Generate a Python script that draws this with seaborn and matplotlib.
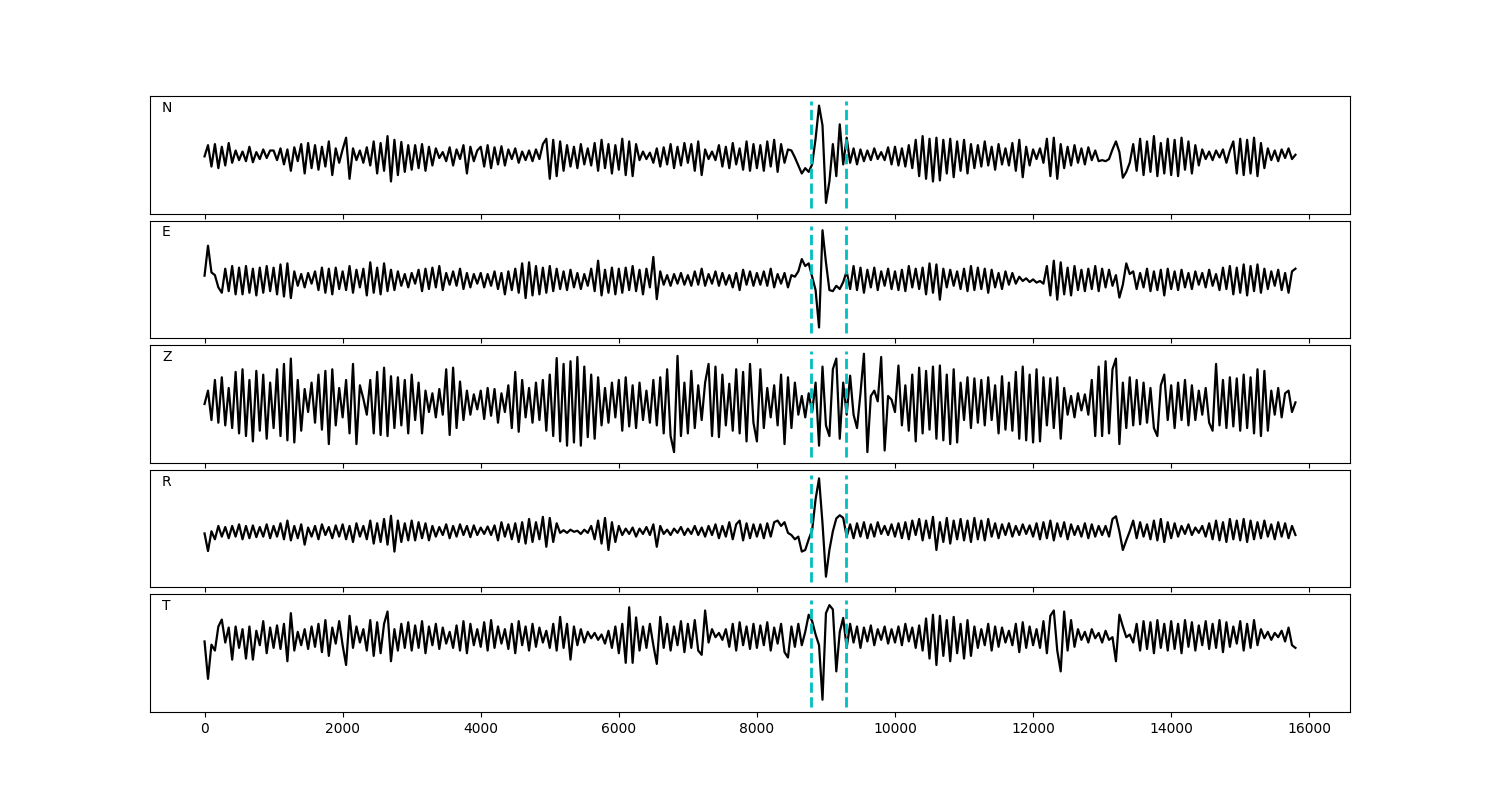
import numpy as np
import pandas as pd
import matplotlib
matplotlib.use("Agg")
import matplotlib.pyplot as plt
import seaborn as sns

# ---------------- data (amplitudes in hundredths, one sample every 50 time units) ----------------
SAMPLE_STEP = 50
PICKS = [8780, 9290]          # cyan dashed markers
CHANNELS = ["N", "E", "Z", "R", "T"]
XTICKS = [0, 2000, 4000, 6000, 8000, 10000, 12000, 14000, 16000]

N_TRACE = [
    -3, 18, -22, 20, -25, 15, -20, 22, -15, 8, -10, 6, -12, 15, -14, 5, -8, 10, -6, 8,
    8, -10, 12, -18, 10, -30, 14, -12, 20, -35, 22, -25, 18, -28, 15, -22, 25, -38, 12, -15,
    10, 32, -45, 12, -10, 8, -15, 14, -20, 25, -35, 22, -30, 35, -50, 28, -38, 24, -32, 18,
    -28, 18, -25, 20, -30, 15, -20, 12, -6, 5, -12, 14, -20, 10, -8, 18, -35, 15, -12, 8,
    15, -22, 18, -25, 14, -18, 16, -20, 10, -8, 12, -15, 6, -10, 8, -12, 10, -8, 20, 30,
    -45, 28, -40, 25, -30, 18, -22, 15, -25, 20, -18, 12, -20, 22, -30, 28, -25, 20, -35, 18,
    -28, 30, -38, 25, -40, 20, -10, 6, -8, 4, -15, 12, -22, 14, -18, 20, -25, 15, -20, 22,
    -15, 20, -30, 25, -38, 10, -8, 6, -10, 18, -22, 15, -25, 22, -18, 12, -28, 25, -30, 20,
    -25, 18, -30, 25, -22, 28, -32, 20, -15, 10, 8, -5, -20, -35, -25, -32, -18, 30, 92, 55,
    -90, -50, 20, -40, 57, -18, 32, -15, 12, -18, 10, -12, 8, -10, 12, -8, 5, -10, 14, -18,
    15, -20, 12, -22, 18, -25, 28, -40, 35, -45, 30, -50, 32, -48, 28, -35, 30, -42, 25, -30,
    28, -35, 20, -25, 18, -22, 25, -20, 15, -28, 20, -18, 12, -20, 22, -30, 28, -42, 15, -20,
    10, -8, 12, -15, 30, -40, 32, -45, 20, -25, 15, -20, 18, -15, 12, -18, 14, -10, 8, -12,
    -10, -12, -8, 10, 25, 5, -43, -32, -15, 20, -30, 30, -38, 25, -32, 35, -40, 22, -35, 30,
    -38, 28, -40, 32, -28, 25, -35, 18, -20, 10, -8, 6, -10, 8, -5, 10, -15, 8, 25, -35,
    30, -38, 28, -35, 32, -40, 22, -25, 12, -10, 8, -12, 10, -6, 12, -8, 0,
]

E_TRACE = [
    7, 63, 13, 8, -15, -25, 20, -22, 25, -28, 22, -28, 25, -25, 20, -30, 22, -25, 25, -22,
    22, -28, 28, -32, 30, -35, 15, -12, 10, -15, 12, -8, 15, -20, 22, -25, 20, -28, 22, -18,
    15, -20, 25, -25, 18, -15, 20, -30, 32, -25, 22, -28, 30, -22, 18, -20, 15, -12, 10, -15,
    12, -8, 18, -22, 20, -18, 22, -15, 25, -20, 12, -10, 15, -12, 20, -18, 12, -15, 10, -8,
    12, -15, 10, -12, 15, -18, 12, -28, 15, -20, 20, -25, 30, -35, 32, -30, 25, -28, 22, -25,
    25, -22, 20, -18, 15, -20, 18, -15, 12, -18, 10, -12, 20, -22, 35, -30, 18, -25, 22, -28,
    20, -25, 22, -20, 25, -22, 18, -28, 20, -15, 42, -37, 15, -10, 8, -12, 10, -8, 12, -10,
    8, -12, 15, -10, 20, -12, 10, -8, 15, -12, 12, -10, 8, -15, 12, -20, 18, -10, 15, -12,
    12, -10, 15, -12, 20, -15, 10, -8, 12, -15, 8, 5, 15, 38, 25, 30, 5, -20, -90, 92,
    32, -20, -22, -12, -18, -5, 15, -18, 25, -20, 22, -25, 18, -15, 22, -20, 15, -12, 20, -18,
    15, -20, 18, -22, 25, -15, 20, -18, 22, -28, 30, -25, 28, -38, 20, -15, 18, -12, 15, -18,
    20, -22, 25, -20, 22, -18, 20, -25, 18, -15, 12, -18, 15, -10, 12, -8, 5, -3, 2, -5,
    0, -6, -3, -8, 25, -30, 35, -38, 32, -28, 22, -30, 25, -20, 18, -22, 20, -18, 25, -22,
    20, -15, 18, -12, 8, -34, -10, 30, 10, 15, -18, 12, -15, 20, -22, 15, -20, 18, -30, 20,
    -18, 15, -20, 18, -15, 12, -18, 15, -10, 12, -15, 18, -12, 10, -20, 22, -18, 25, -28, 22,
    -25, 28, -30, 25, -22, 28, -25, 20, -18, 15, -12, 18, -20, 12, -25, 15, 20,
]

Z_TRACE = [
    0, 25, -30, 45, -35, 50, -40, 30, -45, 60, -55, 65, -60, 45, -70, 62, -50, 55, -65, 40,
    -45, 65, -60, 75, -68, 85, -72, 45, -50, 28, -15, 40, -35, 55, -48, 62, -75, 65, -40, 30,
    -25, 45, -55, 75, -75, 35, 10, -20, 45, -55, 60, -58, 68, -60, 52, -45, 50, -40, 45, -55,
    55, -30, 40, -55, 25, -15, 20, -25, 28, -20, 65, -58, 68, -45, 42, -30, 25, -20, 18, -10,
    25, -28, 30, -22, 28, -35, 20, -15, 35, -45, 60, -52, 45, -25, 30, -35, 40, -30, 45, -50,
    55, -60, 86, -70, 75, -78, 80, -72, 88, -78, 70, -62, 55, -65, 50, -40, 30, -35, 40, -25,
    45, -50, 50, -42, 35, -45, 40, -30, 25, -35, 45, -40, 50, -55, 65, -60, -90, 90, -60, 40,
    -55, 62, -45, 35, -30, 40, 75, -60, 70, -62, 55, -40, 38, -50, 65, -55, 60, -70, 75, -35,
    -70, 65, -45, 30, -25, 35, -40, 55, -75, 50, -45, 40, -20, 15, -25, 20, -15, 40, -78, 70,
    -40, -60, 65, 85, -65, 40, -20, 53, -20, -45, 20, 94, -90, 15, 25, 5, 88, -87, 15, 8,
    -15, 72, -40, 35, -50, 55, -70, 68, -55, 62, -48, 70, -65, 72, -68, 55, -75, 65, -72, 40,
    -30, 50, -45, 48, -35, 45, -40, 50, -30, 35, -55, 52, -48, 40, -50, 60, -65, 70, -68, 55,
    -72, 65, -70, 50, -40, 48, -45, 50, -65, 30, -20, 15, -25, 20, -12, 18, -20, 45, -60, 70,
    -60, 80, -55, 65, 85, -75, 40, -45, 50, -40, 45, -38, 40, -35, 30, -45, -60, 35, 55, -30,
    35, -45, 40, -30, 45, -40, 35, -30, 25, -20, 30, -35, -50, 75, -40, 45, -45, 50, -42, 48,
    -50, 55, -45, 50, -55, 65, -60, 62, -50, 25, -20, 30, -25, 20, 25, -15, 3,
]

R_TRACE = [
    -9, -42, -5, -20, 5, -15, 3, -18, 5, -15, 8, -20, 5, -18, 6, -16, 3, -15, 8, -18,
    5, -15, 10, -20, 15, -22, 5, -18, 8, -30, 2, -15, 5, -20, 8, -12, 3, -18, 6, -15,
    8, -20, 5, -25, 10, -15, 5, -20, 15, -28, 10, -25, 18, -30, 24, -43, 15, -25, 10, -22,
    15, -22, 12, -18, 10, -22, 5, -15, 3, -12, 8, -18, 5, -15, 8, -12, 5, -16, 6, -12,
    2, -10, 4, -12, 6, -22, 12, -15, 8, -20, 10, -25, 12, -28, 18, -25, 12, -20, 22, -34,
    20, -25, 10, -8, -3, -8, -2, -6, -4, -10, -2, -8, 5, -20, 15, -28, 20, -40, 12, -25,
    5, -12, 0, -10, 2, -15, 0, -10, 3, -12, 8, -34, 5, -10, -2, -12, 0, -8, 3, -12,
    0, -10, 5, -12, 2, -15, 5, -12, 8, -18, 5, -15, 12, -20, 8, 15, -22, 10, -18, 8,
    -15, 8, -18, 10, -15, 12, 15, 5, 12, -8, -12, -20, -15, -43, -40, -20, -3, 55, 94, 10,
    -90, -40, -5, 19, 25, 20, -15, 8, -18, 10, -15, 12, -18, 8, -15, 12, -10, 5, -12, 8,
    -15, 10, -18, 12, -20, 15, -12, 18, -22, 15, -18, 22, -40, 12, -25, 20, -28, 15, -20, 18,
    -22, 15, -25, 20, -20, 15, -22, 18, -15, 10, -18, 8, -12, 10, -15, 5, -12, 8, -10, 6,
    -15, 10, -20, 12, -18, 15, -22, 10, -15, 12, -20, 8, -12, 5, -15, 10, -18, 8, -15, 5,
    -12, 5, -15, 18, 23, -5, -40, -22, -5, 15, -18, 12, -15, 8, -20, 15, -22, 18, -25, 12,
    -18, 10, -15, 5, -10, 8, -12, 2, -8, 5, -15, 10, -20, 15, -22, 12, -25, 18, -20, 15,
    -22, 18, -25, 15, -20, 12, -18, 15, -15, 8, -20, 12, -15, 10, -18, 5, -12,
]

T_TRACE = [
    22, -48, 16, 5, 50, 63, 20, 48, -12, 50, 10, 45, -10, 50, -12, 42, 15, 60, 0, 48,
    10, 52, 8, 55, -15, 75, 5, 40, 15, 45, 8, 50, 12, 55, 2, 62, -5, 48, 18, 60,
    15, -22, 70, 10, 50, 20, 45, 5, 62, -5, 58, 0, 55, 78, -15, 45, 5, 55, 10, 58,
    5, 52, 10, 60, 0, 50, 15, 55, 8, 48, 18, 40, 10, 52, 5, 60, 0, 55, 15, 45,
    12, 58, 5, 62, 10, 50, 18, 45, 8, 55, 0, 60, 15, 50, 5, 55, 12, 48, 20, 42,
    10, 55, 5, 68, 10, 55, -12, 50, 15, 45, 20, 40, 28, 38, 25, 35, 18, 42, 10, 50,
    0, 55, -18, 86, -18, 67, 5, 50, 10, 55, 15, -20, 68, 10, 55, 5, 50, 15, 60, 2,
    55, 10, 62, 5, -3, 80, 20, 45, 30, 38, 25, 45, 12, 55, 5, 58, 15, 50, 8, 55,
    10, 52, 15, 58, 5, 48, 18, 55, 2, -8, 50, 12, 55, 15, 40, 72, 60, 35, 15, -87,
    75, 90, 82, -34, 40, 66, 10, 55, 20, 50, 10, 48, 22, 52, 15, 45, 25, 50, 18, 45,
    20, 50, 15, 55, 22, 48, 10, 52, 5, 65, -10, 72, -22, 70, -5, 62, -15, 68, 0, 55,
    -10, 62, -5, 50, 10, 45, 15, 55, 5, 50, 12, 48, 20, 42, 15, 55, 2, 58, 10, 50,
    15, 45, 10, 60, 0, 70, 80, 5, -34, 78, 5, 62, 12, 45, 25, 40, 20, 45, 28, 38,
    20, 42, 25, 30, -15, 72, 50, 30, 35, 20, 55, 5, 60, 8, 58, 0, 62, 10, 55, 5,
    60, 8, 55, 0, 62, 12, 58, 5, 52, 15, 60, 8, 55, 10, 62, 2, 58, 12, 50, 18,
    60, 5, 55, 10, 62, 15, 45, 28, 40, 25, 38, 30, 42, 22, 48, 15, 10,
]

TRACES = [N_TRACE, E_TRACE, Z_TRACE, R_TRACE, T_TRACE]

# ---------------- figure ----------------
fig, axes = plt.subplots(5, 1, figsize=(15, 8), dpi=100, sharex=True)
fig.subplots_adjust(left=0.1, right=0.9, top=0.88, bottom=0.11, hspace=0.06)

for ax, name, trace in zip(axes, CHANNELS, TRACES):
    amp = np.asarray(trace, dtype=float) / 100.0
    df = pd.DataFrame({"t": np.arange(len(amp)) * SAMPLE_STEP, "amp": amp})
    sns.lineplot(data=df, x="t", y="amp", ax=ax, color="black", linewidth=1.6,
                 estimator=None, sort=False)
    ax.vlines(PICKS, -1, 1, colors="c", linestyles="--", linewidth=2)
    ax.set_ylim(-1.1, 1.1)
    ax.set_yticks([])
    ax.set_ylabel("")
    ax.set_xlabel("")
    ax.text(0.01, 0.9, name, transform=ax.transAxes, ha="left", va="center", fontsize=10)

axes[-1].set_xticks(XTICKS)
axes[-1].set_xlim(-790, 16590)

fig.savefig("out.png", dpi=100)
